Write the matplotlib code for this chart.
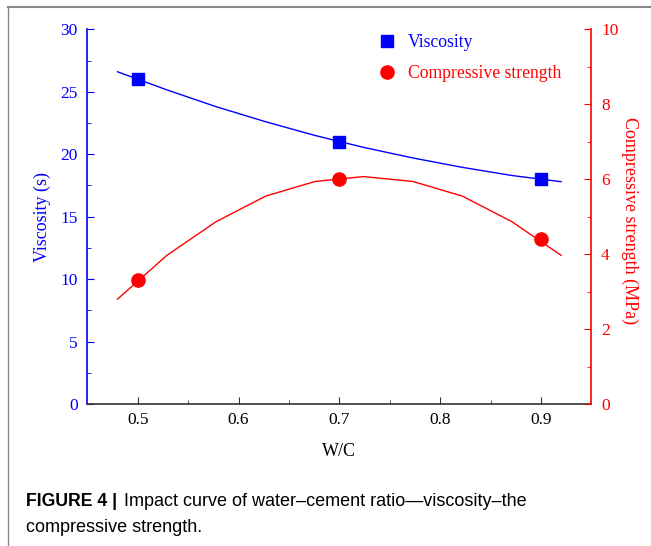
import matplotlib.pyplot as plt
from matplotlib.lines import Line2D

# measured points
wc = [0.5, 0.7, 0.9]
viscosity = [26.0, 21.0, 18.0]
strength = [3.3, 6.0, 4.4]

# fitted curves
fit_x = [0.48, 0.529, 0.578, 0.627, 0.676, 0.724, 0.773, 0.822, 0.871, 0.92]
visc_fit = [26.6, 25.15, 23.8, 22.6, 21.5, 20.55, 19.7, 18.95, 18.3, 17.8]
str_fit = [2.8, 3.97, 4.87, 5.55, 5.94, 6.07, 5.94, 5.55, 4.87, 3.97]

x_ticks = [0.5, 0.6, 0.7, 0.8, 0.9]
left_ticks = [0, 5, 10, 15, 20, 25, 30]
right_ticks = [0, 2, 4, 6, 8, 10]

BLUE = '#0000ff'
RED = '#ff0000'
SERIF = 'Liberation Serif'

fig = plt.figure(figsize=(6.51, 5.46), dpi=100)
ax = fig.add_axes([0.1341, 0.260, 0.7742, 0.6863])
ax2 = ax.twinx()

ax.plot(fit_x, visc_fit, color=BLUE, lw=1.0)
ax.plot(wc, viscosity, 's', color=BLUE, ms=8.5)
ax2.plot(fit_x, str_fit, color=RED, lw=1.0)
ax2.plot(wc, strength, 'o', color=RED, ms=9.5)

ax.set_xlim(0.45, 0.95)
ax.set_ylim(0, 30)
ax2.set_ylim(0, 10)
ax.set_xticks(x_ticks)
ax.set_xticks([0.55, 0.65, 0.75, 0.85], minor=True)
ax.set_yticks(left_ticks)
ax.set_yticks([2.5 + 5 * i for i in range(6)], minor=True)
ax2.set_yticks(right_ticks)
ax2.set_yticks([1, 3, 5, 7, 9], minor=True)

ax.set_xticklabels([f'{v:.1f}' for v in x_ticks], fontsize=12.5, family=SERIF)
ax.set_yticklabels([str(v) for v in left_ticks], fontsize=12.5, family=SERIF, color=BLUE)
ax2.set_yticklabels([str(v) for v in right_ticks], fontsize=12.5, family=SERIF, color=RED)

for a in (ax, ax2):
    a.spines['top'].set_visible(False)
    for s in a.spines.values():
        s.set_linewidth(1.2)
ax.spines['left'].set_color(BLUE)
ax.spines['right'].set_visible(False)
ax2.spines['left'].set_visible(False)
ax2.spines['bottom'].set_visible(False)
ax2.spines['right'].set_color(RED)
ax.spines['bottom'].set_color('#333333')

ax.tick_params(axis='x', which='both', direction='in', color='#333333', pad=6)
ax.tick_params(axis='x', which='major', length=5)
ax.tick_params(axis='x', which='minor', length=3)
ax.tick_params(axis='y', which='both', direction='in', color=BLUE, pad=7)
ax.tick_params(axis='y', which='major', length=5)
ax.tick_params(axis='y', which='minor', length=3)
ax2.tick_params(axis='y', which='both', direction='in', color=RED, pad=7)
ax2.tick_params(axis='y', which='major', length=5)
ax2.tick_params(axis='y', which='minor', length=3)

ax.set_xlabel('W/C', fontsize=13, family=SERIF, va='top')
ax.xaxis.set_label_coords(0.5, -0.103)
ax.set_ylabel('Viscosity (s)', fontsize=13, family=SERIF, color=BLUE, va='center')
ax.yaxis.set_label_coords(-0.09, 0.5)
ax2.set_ylabel('Compressive strength (MPa)', fontsize=13, family=SERIF, color=RED,
               rotation=270, va='center')
ax2.yaxis.set_label_coords(1.077, 0.49)

handles = [Line2D([], [], marker='s', ls='none', color=BLUE, ms=8.5),
           Line2D([], [], marker='o', ls='none', color=RED, ms=9.5)]
ax2.legend(handles, ['Viscosity', 'Compressive strength'], loc='upper left',
           bbox_to_anchor=(0.554, 0.967), bbox_transform=fig.transFigure,
           frameon=False, prop={'family': SERIF, 'size': 12.7},
           labelcolor=[BLUE, RED], handlelength=1.2, handletextpad=0.6,
           labelspacing=0.8)

# page frame lines (top and left)
fig.add_artist(Line2D([0.013, 1.0], [0.987, 0.987], color='#888888', lw=1.5,
                      transform=fig.transFigure))
fig.add_artist(Line2D([0.013, 0.013], [0.0, 0.987], color='#888888', lw=1.0,
                      transform=fig.transFigure))

fig.text(0.04, 0.082, 'FIGURE 4 |', fontsize=12.7, weight='bold',
         family='Liberation Sans', va='center')
fig.text(0.19, 0.082, 'Impact curve of water\u2013cement ratio\u2014viscosity\u2013the',
         fontsize=13, family='Liberation Sans', va='center')
fig.text(0.04, 0.033, 'compressive strength.', fontsize=13,
         family='Liberation Sans', va='center')

fig.savefig('out.png', dpi=100)
